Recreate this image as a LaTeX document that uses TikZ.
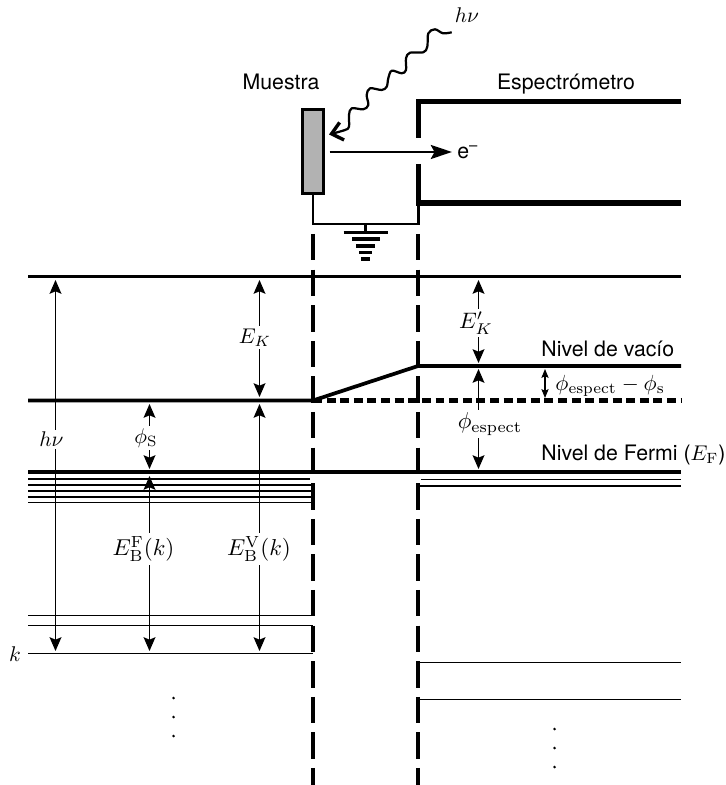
\documentclass[tikz,border=0pt]{standalone}
\usepackage[no-math]{fontspec}
\usepackage{amsmath}
\setmainfont{TeX Gyre Heros}
\usetikzlibrary{arrows.meta}

\tikzset{
  thinlev/.style={line width=0.6pt},
  toplev/.style={line width=0.95pt},
  midlev/.style={line width=1.75pt},
  fatlev/.style={line width=1.9pt},
  wall/.style={line width=2pt,dash pattern=on 12.45pt off 4.28pt},
  dim/.style={line width=0.5pt,{Stealth[length=6.5pt,width=5.6pt,inset=1.2pt]}-{Stealth[length=6.5pt,width=5.6pt,inset=1.2pt]}},
  smalldim/.style={line width=0.5pt,{Stealth[length=4.2pt,width=3.4pt,inset=0.8pt]}-{Stealth[length=4.2pt,width=3.4pt,inset=0.8pt]}},
  lab/.style={fill=white,inner sep=1.2pt},
  txt/.style={inner sep=0pt}
}

\begin{document}
\begin{tikzpicture}[x=0.47pt,y=-0.47pt]
    \useasboundingbox (0,0) rectangle (725,785);

    % fronteras
    \coordinate (LT) at (313,234);
    \coordinate (LB) at (313,785);
    \coordinate (RT) at (418,234);
    \coordinate (RB) at (418,785);
    \draw[wall] (LT)--(LB);
    \draw[wall] (RT)--(RB);

    % niveles
    \coordinate (A) at (28,276.5);
    \coordinate (B) at (681,276.5);
    \coordinate (C) at (28,400.5);
    \coordinate (D) at (313,400.5);
    \coordinate (E) at (418,366);
    \coordinate (F) at (681,366);
    \coordinate (G) at (681,400.5);
    \coordinate (H) at (28,472);
    \coordinate (I) at (681,472);

    \draw[toplev] (A)--(B);
    \draw[midlev] (C)--(D)--(E)--(F);
    \draw[line width=2pt,dash pattern=on 4.2pt off 2.2pt] (D)--(G);
    \draw[fatlev] (H)--(I);

    \foreach \y/\xend in {479/310,485/313,491/313,497/313,502.5/313,615.5/313,625.5/313,653.5/313}{
        \draw[thinlev] (28,\y)--(\xend,\y);
    }
    \foreach \y/\xstart in {479.5/421,486/418,662.5/418,699.5/418}{
        \draw[thinlev] (\xstart,\y)--(681,\y);
    }

    % muestra
    \node[draw,line width=1.3pt,fill=black!30,minimum width=10.1pt,minimum height=39.2pt,inner sep=0pt] (muestra) at (313,151.5) {};
    \node[txt] (muestratxt) at (281,82) {Muestra};
    \coordinate (W1) at (313,224);
    \coordinate (W2) at (418.5,224);
    \coordinate (W3) at (418.5,203);
    \coordinate (W4) at (365.5,224);
    \coordinate (W5) at (365.5,232);
    \draw[line width=0.95pt] (muestra.south)--(W1)--(W2)--(W3);
    \draw[line width=0.95pt] (W4)--(W5);

    % tierra
    \foreach \y/\a/\b in {232.5/343.5/387.5,239/352/380,246/356/375,252.5/359/372,259/361/370}{
        \draw[line width=1.7pt] (\a,\y)--(\b,\y);
    }

    % espectrometro
    \coordinate (S1) at (681,101.5);
    \coordinate (S2) at (418.5,101.5);
    \coordinate (S3) at (418.5,138);
    \coordinate (S4) at (418.5,164);
    \coordinate (S5) at (418.5,203);
    \coordinate (S6) at (681,203);
    \draw[line width=2.4pt] (S1)--(S2)--(S3);
    \draw[line width=2.4pt] (S4)--(S5)--(S6);
    \node[txt] (esptxt) at (566,84) {Espectrómetro};

    % electron
    \coordinate (e0) at (329.5,152);
    \node[txt,anchor=west,inner xsep=2.3pt] (etxt) at (452,152) {e\textsuperscript{--}};
    \draw[line width=0.9pt,-{Stealth[length=10pt,width=6.6pt,inset=1.8pt]}] (e0)--(etxt.west);

    % foton
    \node[txt] (hv) at (467,15) {$h\nu$};
    \draw[line width=1.05pt,line join=round,-{Straight Barb[length=5pt,width=8.5pt,line width=1.6pt]}] plot[smooth,tension=0.55] coordinates {
        (451.7,32.3) (443,33.3) (435,29.3) (428.3,33.3) (427.3,46.7) (423.3,52.3)
        (410,52.7) (406,58.3) (406,70) (401.7,73.3) (391.7,70.7) (388.3,78.3)
        (386.7,86.7) (381.7,90) (370,88.3) (366.7,95) (368.3,105) (363.3,109.3)
        (351.7,108.3) (349,115) (349,126.7) (345,130) (329,134.5)};

    % flechas
    \coordinate (a1) at (55.5,280); \coordinate (a2) at (55.5,651);
    \coordinate (b1) at (259.5,280); \coordinate (b2) at (259.5,397);
    \coordinate (c1) at (149.5,404); \coordinate (c2) at (149.5,469);
    \coordinate (d1) at (149.5,476); \coordinate (d2) at (149.5,651);
    \coordinate (f1) at (259.5,404); \coordinate (f2) at (259.5,651);
    \coordinate (g1) at (478.5,280); \coordinate (g2) at (478.5,363);
    \coordinate (h1) at (478.5,369); \coordinate (h2) at (478.5,469);
    \coordinate (i1) at (545,369); \coordinate (i2) at (545,398);

    \draw[dim] (a1)--(a2);
    \draw[dim] (b1)--(b2);
    \draw[dim] (c1)--(c2);
    \draw[dim] (d1)--(d2);
    \draw[dim] (f1)--(f2);
    \draw[dim] (g1)--(g2);
    \draw[dim] (h1)--(h2);
    \draw[smalldim] (i1)--(i2);

    % etiquetas
    \node[lab] (hvl) at (51.5,439.5) {$h\nu$};
    \node[lab] (ek) at (255,337.5) {$E_K$};
    \node[lab] (phis) at (146,438) {$\phi_{\mathrm{S}}$};
    \node[lab,scale=1.08] (ebf) at (143.5,549) {$E_{\mathrm{B}}^{\mathrm{F}}(k)$};
    \node[lab,scale=1.08] (ebv) at (259,549) {$E_{\mathrm{B}}^{\mathrm{V}}(k)$};
    \node[lab,scale=1.05] (ekp) at (476,323) {$E_K'$};
    \node[lab,scale=1.08] (phie) at (490,424) {$\phi_{\mathrm{espect}}$};
    \node[lab,anchor=west,inner sep=0pt,scale=1.03] (phid) at (555,386) {$\phi_{\mathrm{espect}}-\phi_{\mathrm{s}}$};
    \node[txt] (k) at (15,654) {$k$};
    \node[txt,anchor=west] (vac) at (541,349) {Nivel de vacío};
    \node[txt,anchor=west] (fer) at (541,455) {Nivel de Fermi ($E_{\mathrm{F}}$)};

    % puntos
    \foreach \x/\y in {173.5/698,173.5/717,173.5/736,554.5/729,554.5/748,554.5/767}{
        \fill (\x,\y) circle (0.7pt);
    }
\end{tikzpicture}
\end{document}
